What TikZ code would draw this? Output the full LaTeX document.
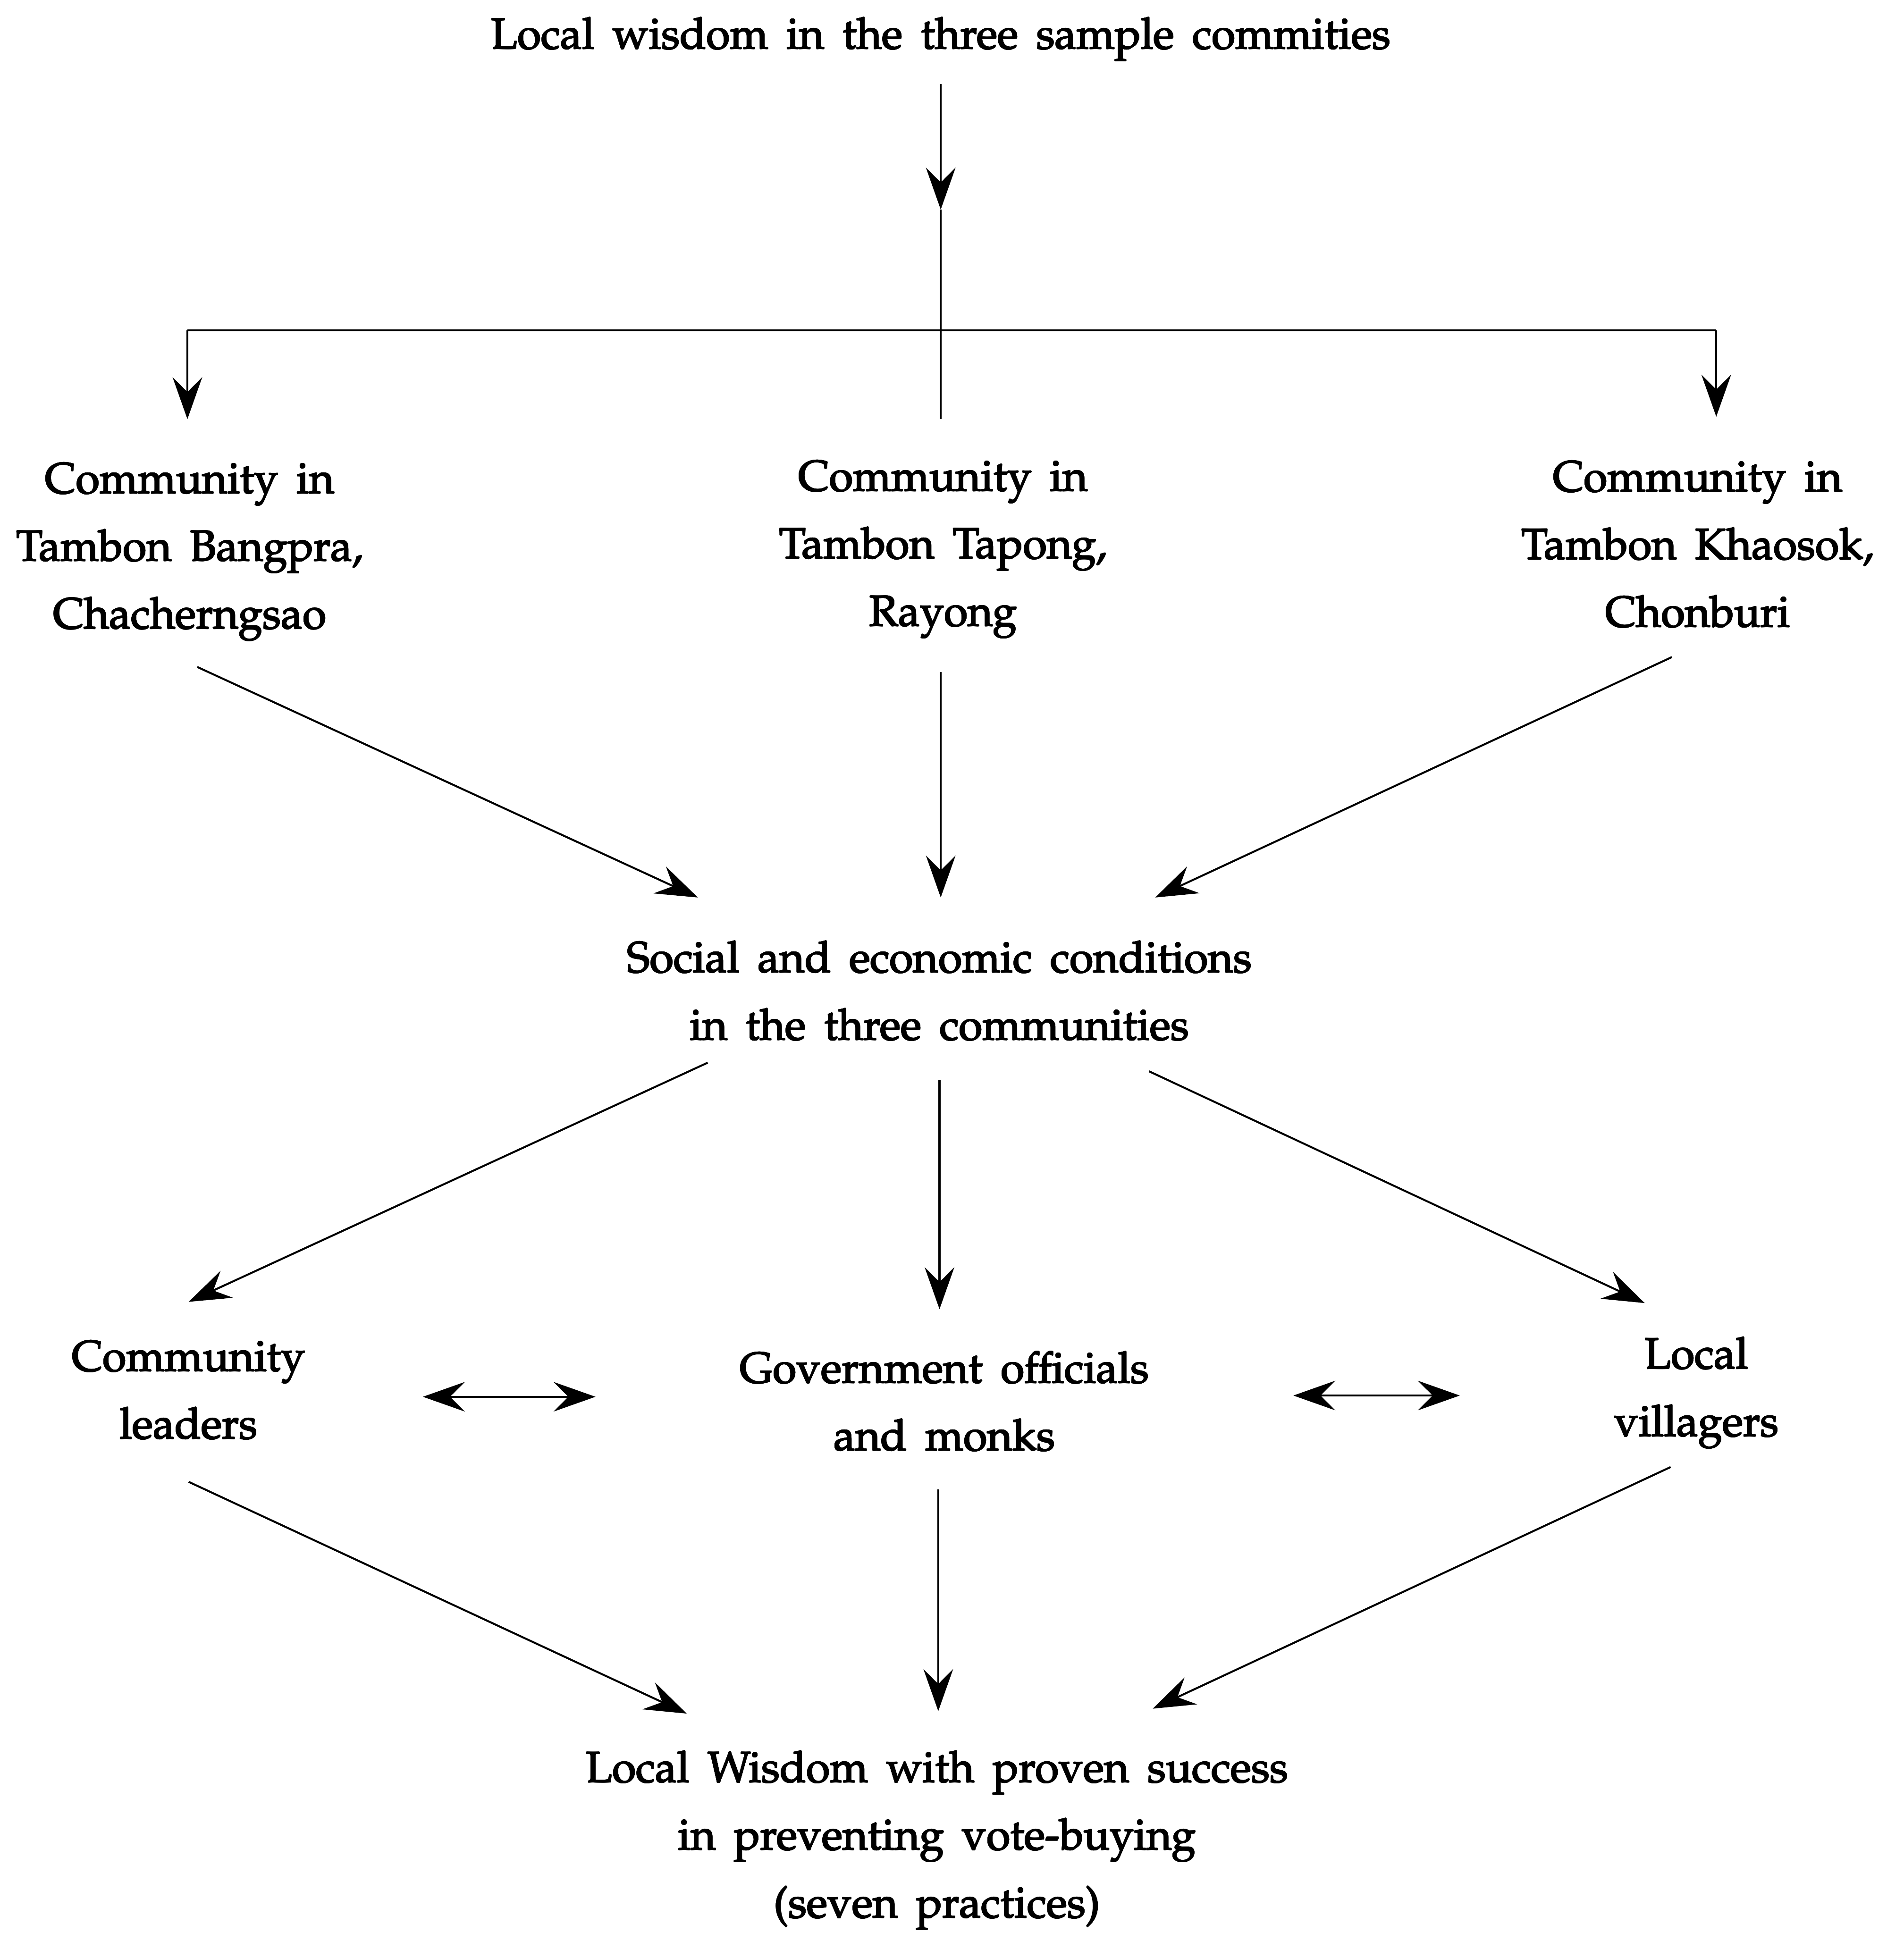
\documentclass[tikz,border=0pt]{standalone}
\usepackage[T1]{fontenc}
\usepackage{mathpazo}
\usepackage[copies]{contour}
\usetikzlibrary{arrows.meta}
\contourlength{0.12pt}
\contournumber{12}
\newcommand\labelfont{\fontsize{10}{15.6}\selectfont\spaceskip=0.42em plus 0.1em\relax}
\newcommand\ink[1]{\contour{black}{#1}}
\begin{document}
\begin{tikzpicture}[x=0.01cm,y=-0.01cm,
  lbl/.style={align=center,inner sep=0pt,font=\labelfont},
  tipA/.tip={Stealth[length=3.4mm,width=2.4mm,inset=1.2mm]},
  link/.style={line width=0.45pt,-tipA},
  both/.style={line width=0.45pt,tipA-tipA},
  plain/.style={line width=0.45pt}]
\useasboundingbox (0,0) rectangle (1544,1568);

% text blocks
\node[lbl] (top) at (763,32) {\ink{Local wisdom in the three sample commities}};
\node[lbl] (bp)  at (154,448) {\ink{Community in}\\\ink{Tambon Bangpra,}\\\ink{Chacherngsao}};
\node[lbl] (tp)  at (765,446) {\ink{Community in}\\\ink{Tambon Tapong,}\\\ink{Rayong}};
\node[lbl] (kh)  at (1377,442) {\ink{Community in}\\\ink{Tambon Khaosok,}\\\ink{Chonburi}};
\node[lbl] (soc) at (762,804) {\ink{Social and economic conditions}\\\ink{in the three communities}};
\node[lbl] (cl)  at (153,1128) {\ink{Community}\\\ink{leaders}};
\node[lbl] (gov) at (766,1137) {\ink{Government officials}\\\ink{and monks}};
\node[lbl] (lv)  at (1376,1130) {\ink{Local}\\\ink{villagers}};
\node[lbl] (lw)  at (760,1493) {\ink{Local Wisdom with proven success}\\\ink{in preventing vote-buying}\\\ink{(seven practices)}};

% connector end points
\coordinate (top-o) at (763,68);
\coordinate (mid)   at (763,170);
\coordinate (tp-i)  at (763,340);
\coordinate (forkL) at (152,268);
\coordinate (forkR) at (1392,268);
\coordinate (bp-i)  at (152,340);
\coordinate (kh-i)  at (1392,338);

\coordinate (bp-o)  at (160,541);
\coordinate (tp-o)  at (763,545);
\coordinate (kh-o)  at (1356,533);
\coordinate (soc-l) at (566,728);
\coordinate (soc-m) at (763,728);
\coordinate (soc-r) at (937,728);

\coordinate (soc-ol) at (574,862);
\coordinate (soc-om) at (762,876);
\coordinate (soc-or) at (932,869);
\coordinate (cl-i)  at (153,1056);
\coordinate (gov-i) at (762,1062);
\coordinate (lv-i)  at (1334,1057);

\coordinate (cl-r)  at (343,1133);
\coordinate (gov-l) at (483,1133);
\coordinate (gov-r) at (1049,1132);
\coordinate (lv-l)  at (1184,1132);

\coordinate (cl-o)  at (153,1202);
\coordinate (gov-o) at (761,1208);
\coordinate (lv-o)  at (1355,1190);
\coordinate (lw-l)  at (557,1390);
\coordinate (lw-m)  at (761,1388);
\coordinate (lw-r)  at (935,1386);

% top fork
\draw[link]  (top-o) -- (mid);
\draw[plain] (mid) -- (tp-i);
\draw[plain] (forkL) -- (forkR);
\draw[link]  (forkL) -- (bp-i);
\draw[link]  (forkR) -- (kh-i);

% communities to conditions
\draw[link] (bp-o) -- (soc-l);
\draw[link] (tp-o) -- (soc-m);
\draw[link] (kh-o) -- (soc-r);

% conditions to actors
\draw[link] (soc-ol) -- (cl-i);
\draw[link] (soc-om) -- (gov-i);
\draw[link] (soc-or) -- (lv-i);

% actors interacting
\draw[both] (cl-r) -- (gov-l);
\draw[both] (gov-r) -- (lv-l);

% actors to outcome
\draw[link] (cl-o) -- (lw-l);
\draw[link] (gov-o) -- (lw-m);
\draw[link] (lv-o) -- (lw-r);
\end{tikzpicture}
\end{document}
